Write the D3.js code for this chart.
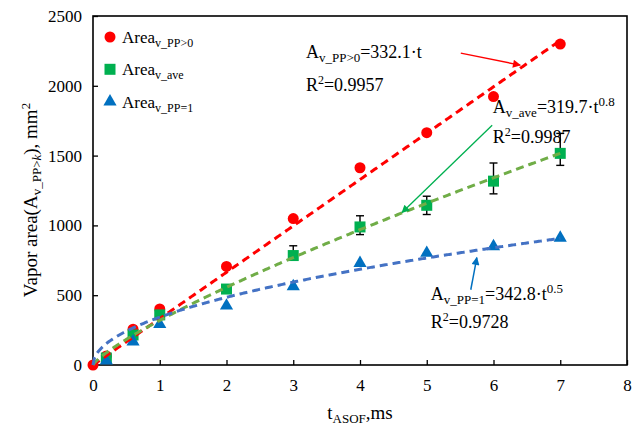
<!DOCTYPE html>
<html>
<head>
<meta charset="utf-8">
<script src="https://cdn.jsdelivr.net/npm/d3@7"></script>
<style>
  html, body { margin: 0; padding: 0; background: #fff; }
  svg { display: block; font-family: "Liberation Serif", "Times New Roman", serif; }
</style>
</head>
<body>
<svg id="chart" width="644" height="427"></svg>
<script>
// Measured vapor area for each pixel-probability threshold
const tAll   = [0, 0.2, 0.6, 1, 2, 3, 4, 5, 6, 7];
const areaPP0 = [0, 65, 256, 402, 706, 1049, 1413, 1664, 1923, 2299];

const tAve    = [0.2, 0.6, 1, 2, 3, 4, 5, 6, 7];
const areaAve = [50, 215, 359, 544, 784, 989, 1144, 1317, 1516];
const errUp   = [0, 0, 0, 0, 70, 80, 65, 130, 143];
const errDown = [0, 0, 0, 0, 30, 55, 66, 91, 86];

const tPP1    = [0.2, 0.6, 1, 2, 3, 4, 5, 6, 7];
const areaPP1 = [30, 167, 292, 424, 563, 730, 802, 850, 910];

// Fitted power laws A = a * t^b
const fitPP0 = { a: 332.1, b: 1 };
const fitAve = { a: 319.7, b: 0.8 };
const fitPP1 = { a: 342.8, b: 0.5 };

const xTicks = [0, 1, 2, 3, 4, 5, 6, 7, 8];
const yTicks = [0, 500, 1000, 1500, 2000, 2500];

const svg = d3.select("#chart");
const plotL = 93, plotR = 627, plotT = 16, plotB = 365;

const x = d3.scaleLinear().domain([0, 8]).range([plotL, plotR]);
const y = d3.scaleLinear().domain([0, 2500]).range([plotB, plotT]);

const RED = "#FF0000", GREEN = "#00B050", BLUE = "#0070C0";
const RED_FIT = "#FF0000", GREEN_FIT = "#70AD47", BLUE_FIT = "#4472C4";

// Arrowheads for the annotation leaders
const defs = svg.append("defs");
[["arRed", RED], ["arGreen", GREEN], ["arBlue", BLUE]].forEach(([id, c]) => {
  defs.append("marker")
    .attr("id", id).attr("viewBox", "0 0 10 10")
    .attr("refX", 9).attr("refY", 5)
    .attr("markerWidth", 10).attr("markerHeight", 8)
    .attr("markerUnits", "userSpaceOnUse")
    .attr("orient", "auto")
    .append("path").attr("d", "M0,0 L10,5 L0,10 Z").attr("fill", c);
});

// Axes with inward ticks
const xAxis = d3.axisBottom(x).tickValues(xTicks).tickSize(-5).tickPadding(14).tickFormat(d3.format("d"));
const yAxis = d3.axisLeft(y).tickValues(yTicks).tickSize(-5).tickPadding(11).tickFormat(d3.format("d"));

const gx = svg.append("g").attr("transform", `translate(0,${plotB})`).call(xAxis);
const gy = svg.append("g").attr("transform", `translate(${plotL},0)`).call(yAxis);
[gx, gy].forEach(g => {
  g.selectAll("text").attr("font-size", 17).attr("fill", "#000")
    .attr("font-family", '"Liberation Serif", "Times New Roman", serif');
  g.selectAll("line").attr("stroke", "#000").attr("stroke-width", 1.3);
  g.select(".domain").remove();
});

// Plot frame
svg.append("rect")
  .attr("x", plotL).attr("y", plotT)
  .attr("width", plotR - plotL).attr("height", plotB - plotT)
  .attr("fill", "none").attr("stroke", "#000").attr("stroke-width", 1.6);

// Rich text helper: segments of plain / subscript / superscript text
function richText(sel, segs, size, subSize) {
  let shift = 0;
  segs.forEach(s => {
    const target = s.sub ? 4 : s.sup ? -7 : 0;
    const ts = sel.append("tspan").text(s.t)
      .attr("font-size", s.sub || s.sup ? subSize : size)
      .attr("dy", target - shift);
    if (s.it) ts.attr("font-style", "italic");
    shift = target;
  });
  return sel;
}

// Markers (red, then green, then blue on top)
const ptRed = tAll.map((t, i) => ({ t, v: areaPP0[i] }));
const ptAve = tAve.map((t, i) => ({ t, v: areaAve[i], up: errUp[i], dn: errDown[i] }));
const ptPP1 = tPP1.map((t, i) => ({ t, v: areaPP1[i] }));

svg.append("g").selectAll("circle").data(ptRed).join("circle")
  .attr("cx", d => x(d.t)).attr("cy", d => y(d.v)).attr("r", 5.5).attr("fill", RED);

const eb = svg.append("g").attr("stroke", "#000").attr("stroke-width", 1.4);
ptAve.filter(d => d.up > 0).forEach(d => {
  const cx = x(d.t), y1 = y(d.v + d.up), y2 = y(d.v - d.dn);
  eb.append("line").attr("x1", cx).attr("x2", cx).attr("y1", y1).attr("y2", y2);
  eb.append("line").attr("x1", cx - 4).attr("x2", cx + 4).attr("y1", y1).attr("y2", y1);
  eb.append("line").attr("x1", cx - 4).attr("x2", cx + 4).attr("y1", y2).attr("y2", y2);
});

svg.append("g").selectAll("rect").data(ptAve).join("rect")
  .attr("x", d => x(d.t) - 5.5).attr("y", d => y(d.v) - 5.5)
  .attr("width", 11).attr("height", 11).attr("fill", GREEN);

const tri = d3.symbol().type(d3.symbolTriangle).size(75);
svg.append("g").selectAll("path").data(ptPP1).join("path")
  .attr("d", tri)
  .attr("transform", d => `translate(${x(d.t)},${y(d.v)})`)
  .attr("fill", BLUE);

// Fitted trend lines
function fitCurve(fit) {
  const pts = d3.range(0, 7.0001, 0.02).map(t => [t, fit.a * Math.pow(t, fit.b)]);
  return d3.line().x(d => x(d[0])).y(d => y(d[1]))(pts);
}
[[fitPP0, RED_FIT], [fitAve, GREEN_FIT], [fitPP1, BLUE_FIT]].forEach(([f, c]) => {
  svg.append("path").attr("d", fitCurve(f))
    .attr("fill", "none").attr("stroke", c).attr("stroke-width", 3)
    .attr("stroke-dasharray", "8,5");
});

// Equation labels with leader arrows (positions in data units)
const notes = [
  { eq: [{ t: "A" }, { t: "v_PP>0", sub: true }, { t: "=332.1·t" }],
    r2: "0.9957", at: [3.19, 2198], r2at: [3.19, 1961],
    arrow: [[5.51, 2234], [6.40, 2148]], marker: "arRed", color: RED, lw: 1.5 },
  { eq: [{ t: "A" }, { t: "v_ave", sub: true }, { t: "=319.7·t" }, { t: "0.8", sup: true }],
    r2: "0.9987", at: [5.99, 1803], r2at: [5.99, 1588],
    arrow: [[5.98, 1717], [4.63, 1092]], marker: "arGreen", color: GREEN, lw: 1.3 },
  { eq: [{ t: "A" }, { t: "v_PP=1", sub: true }, { t: "=342.8·t" }, { t: "0.5", sup: true }],
    r2: "0.9728", at: [5.06, 467], r2at: [5.06, 266],
    arrow: [[5.66, 539], [5.75, 769]], marker: "arBlue", color: BLUE, lw: 1.5 }
];
notes.forEach(n => {
  svg.append("line")
    .attr("x1", x(n.arrow[0][0])).attr("y1", y(n.arrow[0][1]))
    .attr("x2", x(n.arrow[1][0])).attr("y2", y(n.arrow[1][1]))
    .attr("stroke", n.color).attr("stroke-width", n.lw)
    .attr("marker-end", `url(#${n.marker})`);
  richText(svg.append("text").attr("x", x(n.at[0])).attr("y", y(n.at[1])), n.eq, 18, 13);
  richText(svg.append("text").attr("x", x(n.r2at[0])).attr("y", y(n.r2at[1])),
    [{ t: "R" }, { t: "2", sup: true }, { t: "=" + n.r2 }], 18, 12);
});

// Legend
const legend = [
  { name: [{ t: "Area" }, { t: "v_PP>0", sub: true }], shape: "circle", color: RED },
  { name: [{ t: "Area" }, { t: "v_ave", sub: true }], shape: "square", color: GREEN },
  { name: [{ t: "Area" }, { t: "v_PP=1", sub: true }], shape: "triangle", color: BLUE }
];
legend.forEach((l, i) => {
  const cy = 37 + i * 32.3;
  if (l.shape === "circle") {
    svg.append("circle").attr("cx", 110).attr("cy", cy).attr("r", 5.5).attr("fill", l.color);
  } else if (l.shape === "square") {
    svg.append("rect").attr("x", 104.5).attr("y", cy - 5.5).attr("width", 11).attr("height", 11).attr("fill", l.color);
  } else {
    svg.append("path").attr("d", tri).attr("transform", `translate(110,${cy})`).attr("fill", l.color);
  }
  richText(svg.append("text").attr("x", 122).attr("y", cy + 6), l.name, 17, 12);
});

// Axis titles
richText(svg.append("text").attr("text-anchor", "middle").attr("x", 360).attr("y", 419),
  [{ t: "t" }, { t: "ASOF", sub: true }, { t: ",ms" }], 19, 13);

richText(svg.append("text").attr("text-anchor", "middle")
    .attr("transform", "translate(37,200) rotate(-90)"),
  [{ t: "Vapor area(A" }, { t: "v_PP>", sub: true }, { t: "k", sub: true, it: true },
   { t: "), mm" }, { t: "2", sup: true }], 19, 13);
</script>
</body>
</html>
